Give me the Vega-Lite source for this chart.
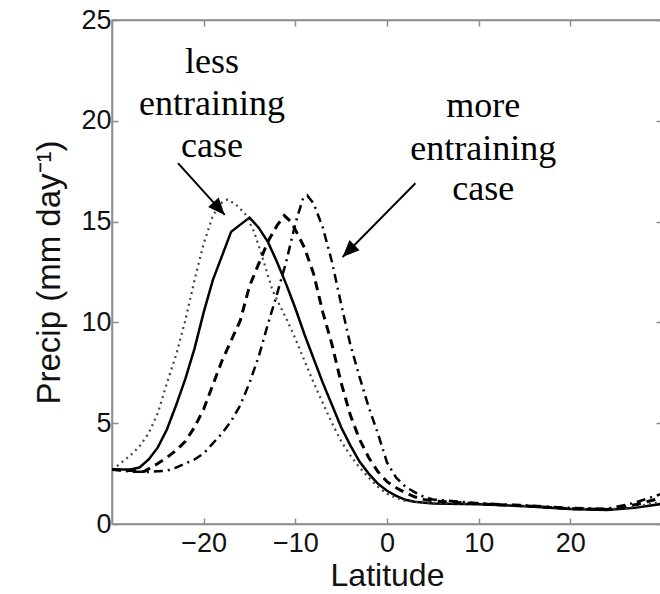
{
  "$schema": "https://vega.github.io/schema/vega-lite/v6.json",
  "width": 550,
  "height": 504,
  "autosize": {"type": "none"},
  "padding": {"left": 112, "top": 20, "right": 0, "bottom": 70},
  "background": "white",
  "config": {
    "view": {"stroke": "#8c8c8c", "strokeWidth": 1.5},
    "axis": {"grid": false, "domainColor": "#8c8c8c", "domainWidth": 1.5, "tickColor": "#8c8c8c", "tickWidth": 1.5, "labelFont": "Liberation Sans", "titleFont": "Liberation Sans", "labelColor": "#111", "titleColor": "#111", "titleFontWeight": "normal"}
  },
  "datasets": {
    "curves": [
      {"run": "solid", "lat": -30, "precip": 2.7}, {"run": "solid", "lat": -28, "precip": 2.7}, {"run": "solid", "lat": -27, "precip": 2.8}, {"run": "solid", "lat": -26, "precip": 3.2}, {"run": "solid", "lat": -25, "precip": 3.8}, {"run": "solid", "lat": -24, "precip": 4.7}, {"run": "solid", "lat": -23, "precip": 5.9}, {"run": "solid", "lat": -22, "precip": 7.2}, {"run": "solid", "lat": -21, "precip": 8.7}, {"run": "solid", "lat": -20, "precip": 10.5}, {"run": "solid", "lat": -19, "precip": 12.1}, {"run": "solid", "lat": -18, "precip": 13.3}, {"run": "solid", "lat": -17, "precip": 14.5}, {"run": "solid", "lat": -16, "precip": 14.85}, {"run": "solid", "lat": -15, "precip": 15.2}, {"run": "solid", "lat": -14, "precip": 14.7}, {"run": "solid", "lat": -13, "precip": 14.0}, {"run": "solid", "lat": -12, "precip": 13.0}, {"run": "solid", "lat": -11, "precip": 11.9}, {"run": "solid", "lat": -10, "precip": 10.7}, {"run": "solid", "lat": -9, "precip": 9.4}, {"run": "solid", "lat": -8, "precip": 8.2}, {"run": "solid", "lat": -7, "precip": 7.0}, {"run": "solid", "lat": -6, "precip": 5.9}, {"run": "solid", "lat": -5, "precip": 4.8}, {"run": "solid", "lat": -4, "precip": 3.9}, {"run": "solid", "lat": -3, "precip": 3.1}, {"run": "solid", "lat": -2, "precip": 2.5}, {"run": "solid", "lat": -1, "precip": 2.0}, {"run": "solid", "lat": 0, "precip": 1.65}, {"run": "solid", "lat": 1, "precip": 1.4}, {"run": "solid", "lat": 2, "precip": 1.2}, {"run": "solid", "lat": 3, "precip": 1.1}, {"run": "solid", "lat": 5, "precip": 1.02}, {"run": "solid", "lat": 10, "precip": 0.98}, {"run": "solid", "lat": 15, "precip": 0.88}, {"run": "solid", "lat": 20, "precip": 0.75}, {"run": "solid", "lat": 24, "precip": 0.7}, {"run": "solid", "lat": 27, "precip": 0.8}, {"run": "solid", "lat": 30, "precip": 1.0},
      {"run": "dotted", "lat": -30, "precip": 2.7}, {"run": "dotted", "lat": -29.5, "precip": 2.85}, {"run": "dotted", "lat": -28, "precip": 3.4}, {"run": "dotted", "lat": -27, "precip": 3.85}, {"run": "dotted", "lat": -26, "precip": 4.5}, {"run": "dotted", "lat": -25, "precip": 5.5}, {"run": "dotted", "lat": -24, "precip": 7.0}, {"run": "dotted", "lat": -23, "precip": 8.4}, {"run": "dotted", "lat": -22, "precip": 10.1}, {"run": "dotted", "lat": -21, "precip": 12.1}, {"run": "dotted", "lat": -20, "precip": 13.9}, {"run": "dotted", "lat": -19, "precip": 15.3}, {"run": "dotted", "lat": -18, "precip": 15.95}, {"run": "dotted", "lat": -17.4, "precip": 16.1}, {"run": "dotted", "lat": -16.5, "precip": 15.85}, {"run": "dotted", "lat": -15.5, "precip": 15.4}, {"run": "dotted", "lat": -14.5, "precip": 14.5}, {"run": "dotted", "lat": -13.5, "precip": 13.1}, {"run": "dotted", "lat": -12.5, "precip": 11.6}, {"run": "dotted", "lat": -11, "precip": 10.2}, {"run": "dotted", "lat": -10, "precip": 9.2}, {"run": "dotted", "lat": -9, "precip": 8.1}, {"run": "dotted", "lat": -8, "precip": 7.0}, {"run": "dotted", "lat": -7, "precip": 6.0}, {"run": "dotted", "lat": -6, "precip": 5.0}, {"run": "dotted", "lat": -5, "precip": 4.1}, {"run": "dotted", "lat": -4, "precip": 3.4}, {"run": "dotted", "lat": -3, "precip": 2.8}, {"run": "dotted", "lat": -2, "precip": 2.3}, {"run": "dotted", "lat": -1, "precip": 1.85}, {"run": "dotted", "lat": 0, "precip": 1.5}, {"run": "dotted", "lat": 1, "precip": 1.3}, {"run": "dotted", "lat": 2, "precip": 1.15}, {"run": "dotted", "lat": 3, "precip": 1.1}, {"run": "dotted", "lat": 5, "precip": 1.05}, {"run": "dotted", "lat": 10, "precip": 1.0}, {"run": "dotted", "lat": 15, "precip": 0.9}, {"run": "dotted", "lat": 20, "precip": 0.78}, {"run": "dotted", "lat": 24, "precip": 0.72}, {"run": "dotted", "lat": 27, "precip": 0.85}, {"run": "dotted", "lat": 30, "precip": 1.1},
      {"run": "dashed", "lat": -30, "precip": 2.7}, {"run": "dashed", "lat": -28, "precip": 2.65}, {"run": "dashed", "lat": -26.5, "precip": 2.6}, {"run": "dashed", "lat": -25, "precip": 3.0}, {"run": "dashed", "lat": -24, "precip": 3.3}, {"run": "dashed", "lat": -23, "precip": 3.65}, {"run": "dashed", "lat": -22, "precip": 4.1}, {"run": "dashed", "lat": -21, "precip": 4.8}, {"run": "dashed", "lat": -20, "precip": 5.7}, {"run": "dashed", "lat": -19, "precip": 6.9}, {"run": "dashed", "lat": -18, "precip": 8.1}, {"run": "dashed", "lat": -17, "precip": 9.1}, {"run": "dashed", "lat": -16, "precip": 10.1}, {"run": "dashed", "lat": -15, "precip": 11.8}, {"run": "dashed", "lat": -14, "precip": 12.9}, {"run": "dashed", "lat": -13, "precip": 14.0}, {"run": "dashed", "lat": -12, "precip": 14.8}, {"run": "dashed", "lat": -11.2, "precip": 15.3}, {"run": "dashed", "lat": -10.5, "precip": 15.0}, {"run": "dashed", "lat": -10, "precip": 14.6}, {"run": "dashed", "lat": -9, "precip": 13.7}, {"run": "dashed", "lat": -8, "precip": 12.4}, {"run": "dashed", "lat": -7, "precip": 10.5}, {"run": "dashed", "lat": -6, "precip": 8.9}, {"run": "dashed", "lat": -5, "precip": 7.0}, {"run": "dashed", "lat": -4, "precip": 5.4}, {"run": "dashed", "lat": -3, "precip": 4.2}, {"run": "dashed", "lat": -2, "precip": 3.3}, {"run": "dashed", "lat": -1, "precip": 2.6}, {"run": "dashed", "lat": 0, "precip": 2.1}, {"run": "dashed", "lat": 1, "precip": 1.8}, {"run": "dashed", "lat": 2, "precip": 1.55}, {"run": "dashed", "lat": 3, "precip": 1.35}, {"run": "dashed", "lat": 4, "precip": 1.22}, {"run": "dashed", "lat": 5, "precip": 1.15}, {"run": "dashed", "lat": 10, "precip": 1.0}, {"run": "dashed", "lat": 15, "precip": 0.9}, {"run": "dashed", "lat": 20, "precip": 0.76}, {"run": "dashed", "lat": 24, "precip": 0.72}, {"run": "dashed", "lat": 27, "precip": 0.95}, {"run": "dashed", "lat": 30, "precip": 1.3},
      {"run": "dashdot", "lat": -30, "precip": 2.7}, {"run": "dashdot", "lat": -28, "precip": 2.6}, {"run": "dashdot", "lat": -26, "precip": 2.58}, {"run": "dashdot", "lat": -24, "precip": 2.65}, {"run": "dashdot", "lat": -23, "precip": 2.8}, {"run": "dashdot", "lat": -22, "precip": 3.0}, {"run": "dashdot", "lat": -21, "precip": 3.2}, {"run": "dashdot", "lat": -20, "precip": 3.5}, {"run": "dashdot", "lat": -19, "precip": 4.0}, {"run": "dashdot", "lat": -18, "precip": 4.5}, {"run": "dashdot", "lat": -17, "precip": 5.1}, {"run": "dashdot", "lat": -16, "precip": 5.9}, {"run": "dashdot", "lat": -15, "precip": 7.0}, {"run": "dashdot", "lat": -14, "precip": 8.3}, {"run": "dashdot", "lat": -13, "precip": 9.9}, {"run": "dashdot", "lat": -12, "precip": 11.4}, {"run": "dashdot", "lat": -11, "precip": 13.0}, {"run": "dashdot", "lat": -10, "precip": 14.9}, {"run": "dashdot", "lat": -9.2, "precip": 16.1}, {"run": "dashdot", "lat": -8.7, "precip": 16.3}, {"run": "dashdot", "lat": -8, "precip": 15.9}, {"run": "dashdot", "lat": -7, "precip": 14.7}, {"run": "dashdot", "lat": -6, "precip": 13.0}, {"run": "dashdot", "lat": -5, "precip": 10.9}, {"run": "dashdot", "lat": -4, "precip": 8.9}, {"run": "dashdot", "lat": -3, "precip": 7.3}, {"run": "dashdot", "lat": -2, "precip": 5.8}, {"run": "dashdot", "lat": -1, "precip": 4.5}, {"run": "dashdot", "lat": 0, "precip": 3.05}, {"run": "dashdot", "lat": 1, "precip": 2.3}, {"run": "dashdot", "lat": 2, "precip": 1.85}, {"run": "dashdot", "lat": 3, "precip": 1.58}, {"run": "dashdot", "lat": 4, "precip": 1.35}, {"run": "dashdot", "lat": 5, "precip": 1.22}, {"run": "dashdot", "lat": 10, "precip": 1.03}, {"run": "dashdot", "lat": 15, "precip": 0.93}, {"run": "dashdot", "lat": 20, "precip": 0.8}, {"run": "dashdot", "lat": 24, "precip": 0.75}, {"run": "dashdot", "lat": 27, "precip": 1.05}, {"run": "dashdot", "lat": 30, "precip": 1.5}
    ],
    "notes": [
      {"lat": -19.1, "precip": 22.37, "text": "less"},
      {"lat": -19.1, "precip": 20.29, "text": "entraining"},
      {"lat": -19.1, "precip": 18.2, "text": "case"},
      {"lat": 10.5, "precip": 20.19, "text": "more"},
      {"lat": 10.5, "precip": 18.06, "text": "entraining"},
      {"lat": 10.5, "precip": 16.07, "text": "case"}
    ],
    "arrows": [
      {"arrow": "less", "lat": -22.8, "precip": 17.9, "lat2": -17.7, "precip2": 15.33},
      {"arrow": "more", "lat": 3.1, "precip": 16.9, "lat2": -4.85, "precip2": 13.24}
    ]
  },
  "layer": [
    {
      "data": {"name": "curves"},
      "transform": [{"filter": "datum.run === 'solid'"}],
      "mark": {"type": "line", "color": "black", "strokeWidth": 2.5, "clip": true},
      "encoding": {
        "x": {"field": "lat", "type": "quantitative", "scale": {"domain": [-30, 30], "nice": false, "zero": false},
              "axis": {"orient": "bottom", "values": [-20, -10, 0, 10, 20], "tickSize": -6, "labelPadding": 12, "labelFontSize": 27, "title": "Latitude", "titleFontSize": 32, "titlePadding": 4}},
        "y": {"field": "precip", "type": "quantitative", "scale": {"domain": [0, 25], "nice": false},
              "axis": {"orient": "left", "values": [0, 5, 10, 15, 20, 25], "tickSize": -6, "labelPadding": 7, "labelFontSize": 27, "title": "Precip (mm day⁻¹)", "titleFontSize": 33, "titlePadding": 14}}
      }
    },
    {
      "data": {"name": "curves"},
      "transform": [{"filter": "datum.run === 'dotted'"}],
      "mark": {"type": "line", "color": "#444", "strokeWidth": 2.2, "strokeDash": [2, 4], "clip": true},
      "encoding": {
        "x": {"field": "lat", "type": "quantitative", "axis": {"orient": "top", "values": [-20, -10, 0, 10, 20], "tickSize": -6, "labels": false, "title": null}},
        "y": {"field": "precip", "type": "quantitative", "axis": {"orient": "right", "values": [0, 5, 10, 15, 20, 25], "tickSize": -6, "labels": false, "title": null}}
      }
    },
    {
      "data": {"name": "curves"},
      "transform": [{"filter": "datum.run === 'dashed'"}],
      "mark": {"type": "line", "color": "black", "strokeWidth": 3, "strokeDash": [9, 6], "clip": true},
      "encoding": {
        "x": {"field": "lat", "type": "quantitative", "axis": null},
        "y": {"field": "precip", "type": "quantitative", "axis": null}
      }
    },
    {
      "data": {"name": "curves"},
      "transform": [{"filter": "datum.run === 'dashdot'"}],
      "mark": {"type": "line", "color": "black", "strokeWidth": 2.5, "strokeDash": [9, 5, 2, 5], "clip": true},
      "encoding": {
        "x": {"field": "lat", "type": "quantitative", "axis": null},
        "y": {"field": "precip", "type": "quantitative", "axis": null}
      }
    },
    {
      "data": {"name": "notes"},
      "mark": {"type": "text", "font": "Liberation Serif", "fontSize": 36, "align": "center", "baseline": "alphabetic", "color": "black"},
      "encoding": {
        "x": {"field": "lat", "type": "quantitative", "axis": null},
        "y": {"field": "precip", "type": "quantitative", "axis": null},
        "text": {"field": "text"}
      }
    },
    {
      "data": {"name": "arrows"},
      "mark": {"type": "rule", "color": "black", "strokeWidth": 2},
      "encoding": {
        "x": {"field": "lat", "type": "quantitative", "axis": null},
        "y": {"field": "precip", "type": "quantitative", "axis": null},
        "x2": {"field": "lat2"},
        "y2": {"field": "precip2"}
      }
    },
    {
      "data": {"name": "arrows"},
      "transform": [{"filter": "datum.arrow === 'less'"}],
      "mark": {"type": "point", "shape": "M0,0L-0.42,1L0.42,1Z", "filled": true, "color": "black", "opacity": 1, "size": 1150, "angle": 138},
      "encoding": {
        "x": {"field": "lat2", "type": "quantitative", "axis": null},
        "y": {"field": "precip2", "type": "quantitative", "axis": null}
      }
    },
    {
      "data": {"name": "arrows"},
      "transform": [{"filter": "datum.arrow === 'more'"}],
      "mark": {"type": "point", "shape": "M0,0L-0.42,1L0.42,1Z", "filled": true, "color": "black", "opacity": 1, "size": 1150, "angle": 225},
      "encoding": {
        "x": {"field": "lat2", "type": "quantitative", "axis": null},
        "y": {"field": "precip2", "type": "quantitative", "axis": null}
      }
    }
  ],
  "resolve": {"axis": {"x": "independent", "y": "independent"}}
}
